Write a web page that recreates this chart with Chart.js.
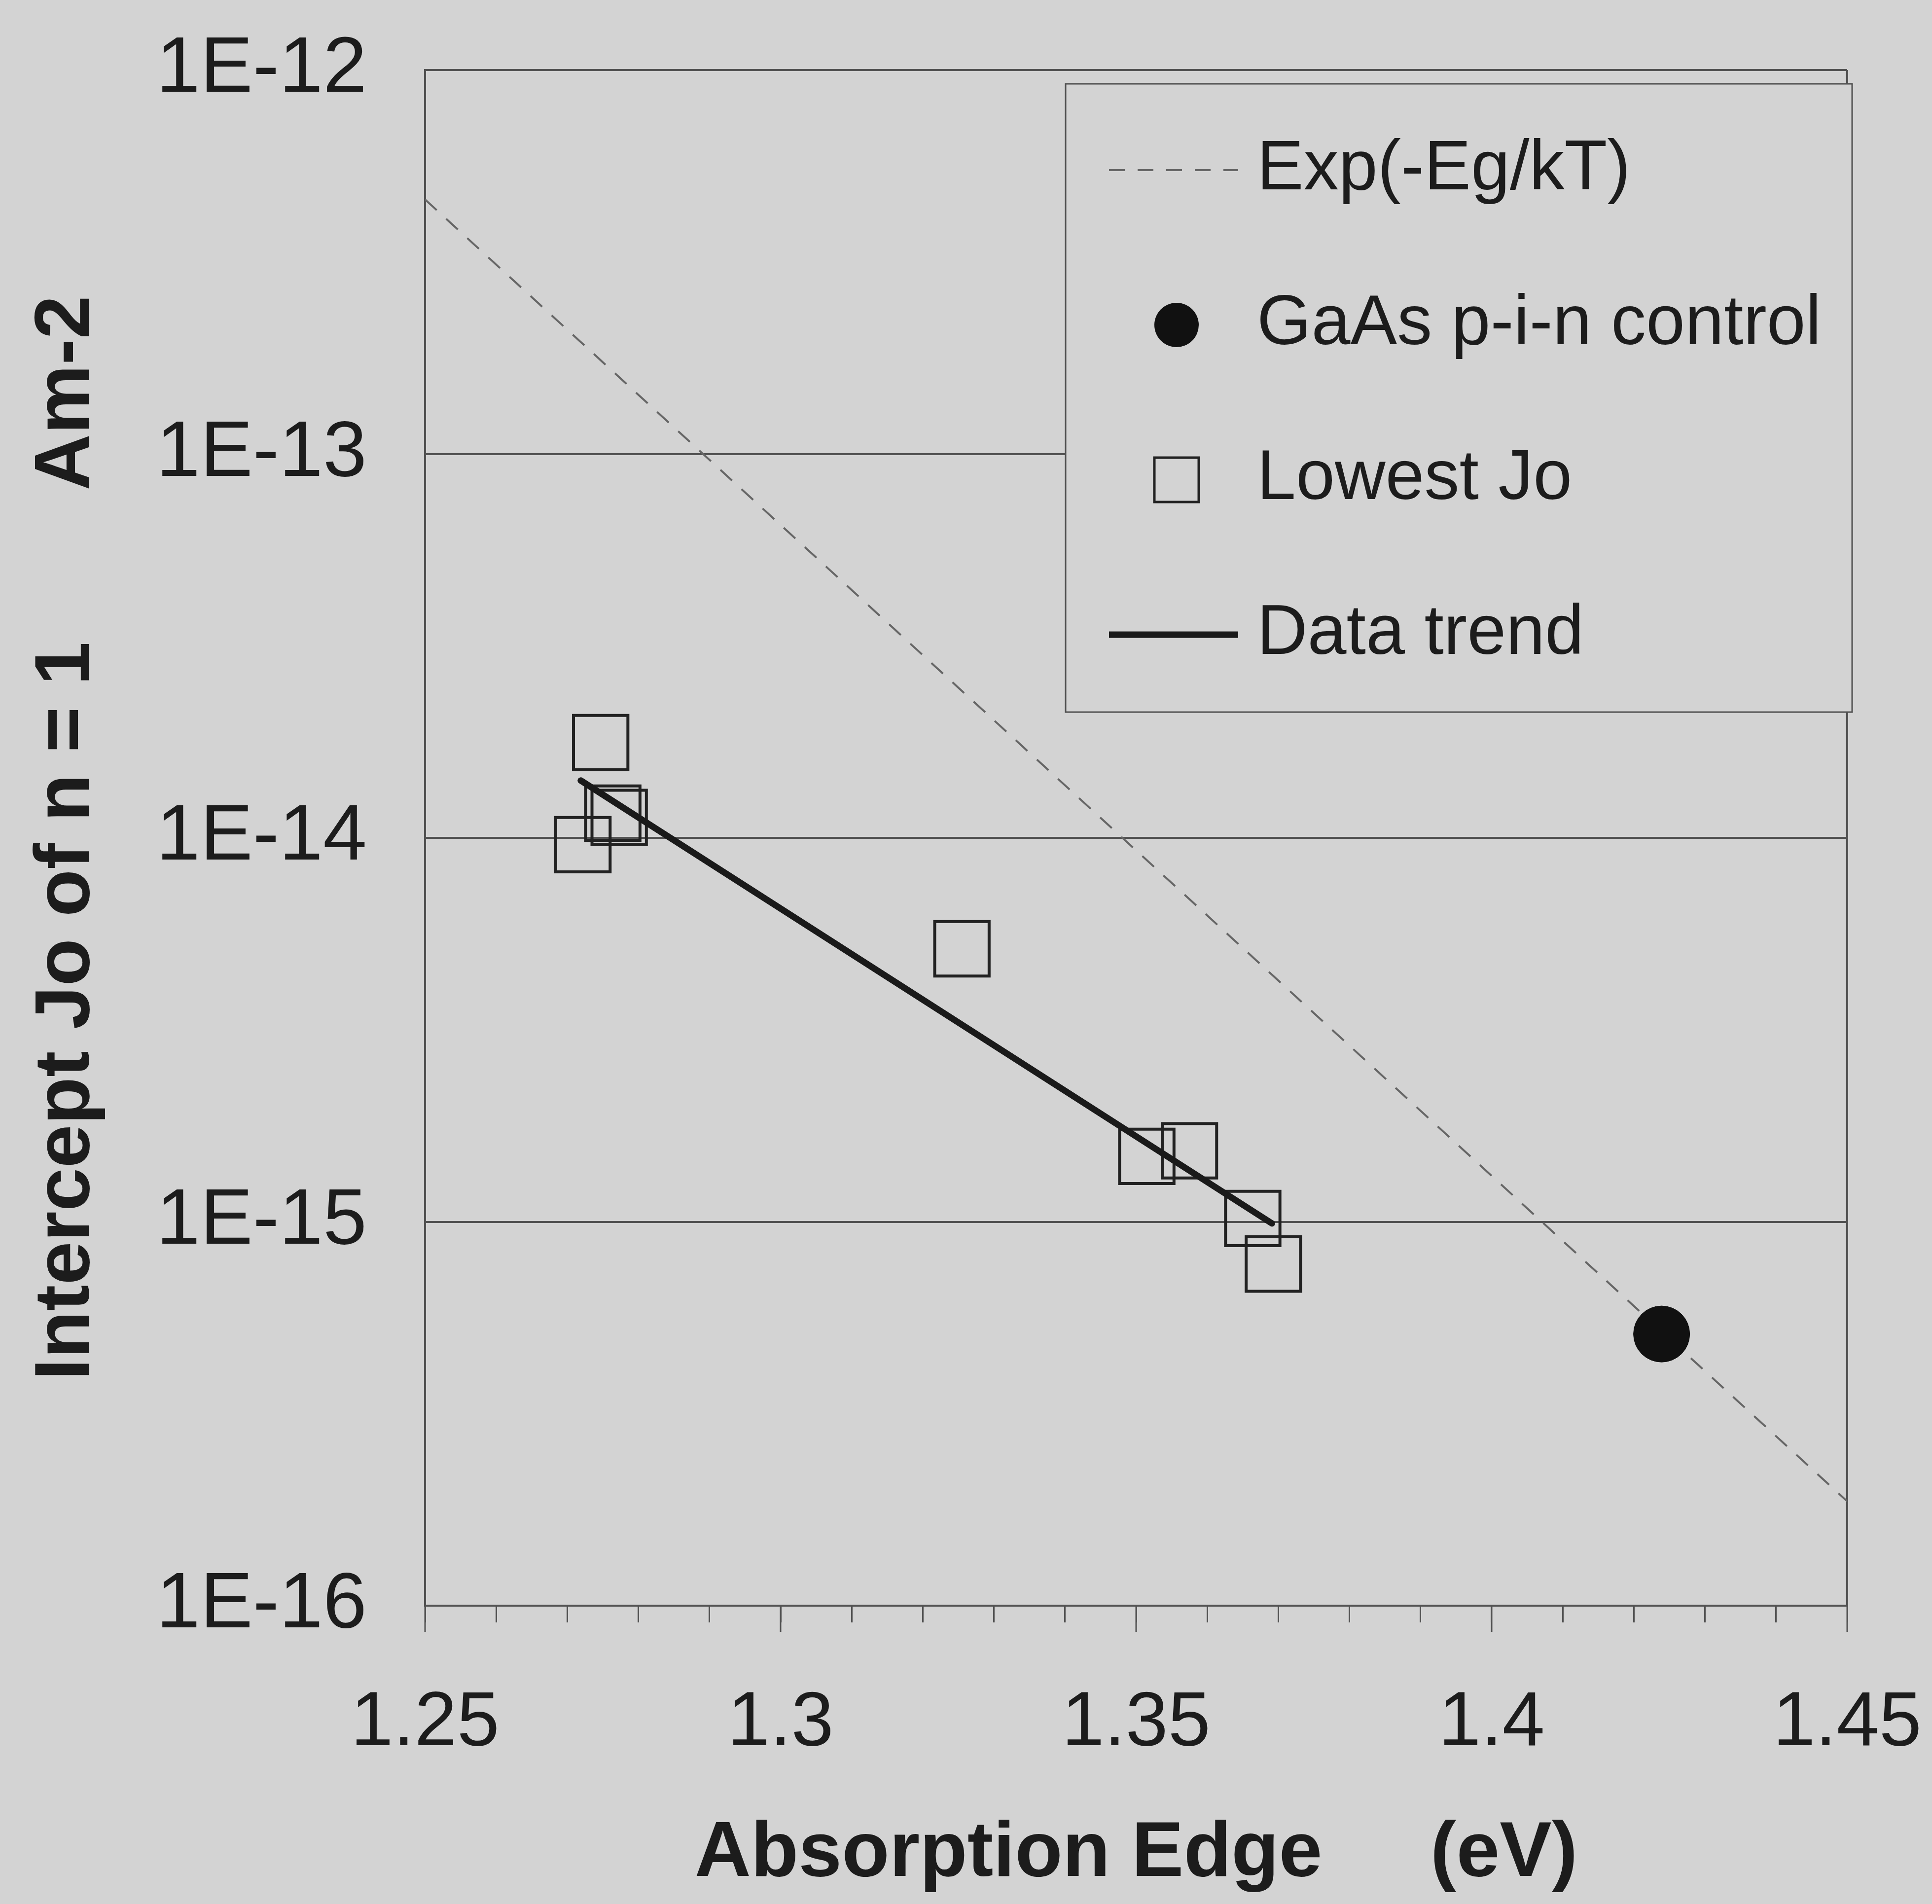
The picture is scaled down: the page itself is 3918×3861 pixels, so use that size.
<!DOCTYPE html>
<html>
<head>
<meta charset="utf-8">
<script src="https://cdn.jsdelivr.net/npm/chart.js@4.4.1/dist/chart.umd.min.js"></script>
<style>
html,body{margin:0;padding:0;background:#d3d3d3;}
canvas{display:block;}
</style>
</head>
<body>
<canvas id="joChart" width="3918" height="3861"></canvas>
<script>
/* ---------- DATA ---------- */

const xTickLabels = ["1.25", "1.3", "1.35", "1.4", "1.45"];
const yTickLabels = ["1E-16", "1E-15", "1E-14", "1E-13", "1E-12"];

// Exp(-Eg/kT) reference, a straight line on the log axis
const expEdge = [1.25, 1.45];
const expJo = [4.6e-13, 1.87e-16];

// GaAs p-i-n control
const gaasEdge = [1.4239];
const gaasJo = [5.1e-16];

// lowest Jo of each sample
const lowEdge = [1.2747, 1.2722, 1.2764, 1.2773, 1.3255, 1.3515, 1.3575, 1.3664, 1.3693];
const lowJo = [1.77e-14, 9.6e-15, 1.16e-14, 1.13e-14, 5.14e-15, 1.48e-15, 1.53e-15, 1.02e-15, 7.76e-16];

// data trend
const trendEdge = [1.2719, 1.3691];
const trendJo = [1.41e-14, 9.9e-16];


/* ---------- STYLE ---------- */

const BG = "#d3d3d3";
const INK = "#1c1c1c";
const RULE = "#525252";
const FONT = "'Liberation Sans', Arial, sans-serif";

Chart.defaults.font.family = FONT;
Chart.defaults.color = INK;

function pts(xs, ys){
return xs.map((x, i) => ({x: x, y: ys[i]}))
}

// minor ticks every 0.01 between the labelled ones
const minorTicks = [];
for(let i = 0; i <= 20; i++){
minorTicks.push({value: 1.25 + i * 0.01});
}


/* ---------- BACKGROUND + LEGEND ---------- */

const paper = {
id: "paper",
beforeDraw(chart){
const ctx = chart.ctx;
ctx.save();
ctx.fillStyle = BG;
ctx.fillRect(0, 0, chart.width, chart.height);
ctx.restore();
}
};

const boxLegend = {
id: "boxLegend",
afterDatasetsDraw(chart){
const ctx = chart.ctx;
const a = chart.chartArea;
const x0 = a.right - 1585, y0 = a.top + 28, w = 1595, h = 1274;

ctx.save();
ctx.fillStyle = BG;
ctx.fillRect(x0, y0, w, h);
ctx.strokeStyle = RULE;
ctx.lineWidth = 3;
ctx.strokeRect(x0, y0, w, h);

ctx.font = "142px " + FONT;
ctx.textBaseline = "middle";
ctx.textAlign = "left";

chart.data.datasets.forEach((ds, i) => {
const y = y0 + 175 + i * 314;
const cx = x0 + 225;
ctx.save();
if(ds.showLine){
ctx.strokeStyle = ds.borderColor;
ctx.lineWidth = ds.borderWidth;
ctx.setLineDash(ds.borderDash || []);
ctx.beginPath();
ctx.moveTo(x0 + 88, y);
ctx.lineTo(x0 + 350, y);
ctx.stroke();
}else if(ds.pointStyle === "circle"){
ctx.fillStyle = ds.pointBackgroundColor;
ctx.beginPath();
ctx.arc(cx, y, 45, 0, Math.PI * 2);
ctx.fill();
}else{
ctx.strokeStyle = ds.pointBorderColor;
ctx.lineWidth = 5;
ctx.strokeRect(cx - 45, y - 45, 90, 90);
}
ctx.restore();
ctx.fillStyle = INK;
ctx.fillText(ds.label, x0 + 388, y);
});
ctx.restore();
}
};


/* ---------- CHART ---------- */

new Chart(document.getElementById("joChart"), {
type: "scatter",
data: {
datasets: [
{
label: "Exp(-Eg/kT)",
data: pts(expEdge, expJo),
showLine: true,
borderColor: "#666666",
borderWidth: 4,
borderDash: [32, 26],
pointRadius: 0,
order: 4
},
{
label: "GaAs p-i-n control",
data: pts(gaasEdge, gaasJo),
pointStyle: "circle",
pointRadius: 57,
pointBackgroundColor: "#111111",
pointBorderColor: "#111111",
pointBorderWidth: 1,
order: 2
},
{
label: "Lowest Jo",
data: pts(lowEdge, lowJo),
pointStyle: "rect",
pointRadius: 78,
pointBackgroundColor: "rgba(0,0,0,0)",
pointBorderColor: "#222222",
pointBorderWidth: 6,
order: 3
},
{
label: "Data trend",
data: pts(trendEdge, trendJo),
showLine: true,
borderColor: "#1a1a1a",
borderWidth: 13,
borderCapStyle: "round",
pointRadius: 0,
order: 1
}
]
},
options: {
responsive: false,
devicePixelRatio: 1,
animation: false,
layout: {padding: {top: 142, right: 172, left: 0, bottom: 0}},
plugins: {legend: {display: false}, tooltip: {enabled: false}},
scales: {
x: {
type: "linear",
position: "bottom",
weight: 1,
min: 1.25,
max: 1.45,
afterBuildTicks: s => { s.ticks = xTickLabels.map(t => ({value: parseFloat(t)})); },
afterFit: s => { s.height = 605; s.paddingLeft = 0; s.paddingRight = 0; },
ticks: {
callback: (v, i) => xTickLabels[i],
font: {size: 155},
padding: 94,
maxRotation: 0,
autoSkip: false
},
grid: {
color: c => (c.index === xTickLabels.length - 1 ? RULE : "rgba(0,0,0,0)"),
lineWidth: 4,
tickColor: RULE,
tickWidth: 3,
tickLength: 53
},
border: {display: true, color: RULE, width: 4},
title: {
display: true,
text: "Absorption Edge\u00a0\u00a0\u00a0\u00a0\u00a0(eV)",
font: {size: 158, weight: "bold"},
padding: {top: 0, bottom: 6}
}
},
xMinor: {
type: "linear",
position: "bottom",
weight: 0,
min: 1.25,
max: 1.45,
afterBuildTicks: s => { s.ticks = minorTicks.map(t => ({value: t.value})); },
afterFit: s => { s.height = 0; s.paddingLeft = 0; s.paddingRight = 0; },
ticks: {display: false},
grid: {
drawOnChartArea: false,
tickColor: RULE,
tickWidth: 3,
tickLength: 34
},
border: {display: false}
},
y: {
type: "logarithmic",
position: "left",
min: 1e-16,
max: 1e-12,
afterBuildTicks: s => { s.ticks = yTickLabels.map(t => ({value: Number(t)})); },
afterFit: s => { s.width = 862; s.paddingTop = 0; s.paddingBottom = 0; },
ticks: {
callback: (v, i) => yTickLabels[i],
font: {size: 160},
padding: 118,
autoSkip: false
},
grid: {
color: RULE,
lineWidth: 4,
drawTicks: false
},
border: {display: true, color: RULE, width: 4},
title: {
display: true,
text: "Intercept Jo of n = 1\u00a0\u00a0\u00a0\u00a0\u00a0\u00a0\u00a0Am-2",
font: {size: 158, weight: "bold"},
padding: {top: 42, bottom: 0}
}
}
}
},
plugins: [paper, boxLegend]
});
</script>
</body>
</html>
